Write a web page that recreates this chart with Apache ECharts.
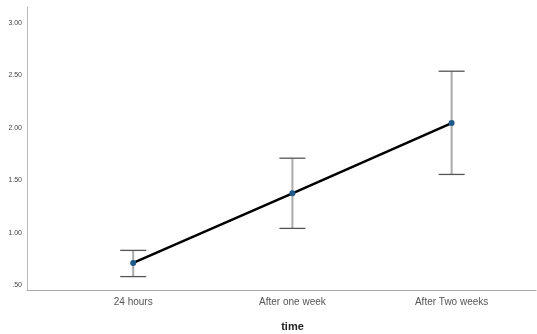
<!DOCTYPE html>
<html><head><meta charset="utf-8">
<script src="https://cdn.jsdelivr.net/npm/echarts@6/dist/echarts.min.js"></script>
<style>html,body{margin:0;padding:0;background:#fff}#c{width:537px;height:334px}</style>
</head><body><div id="c"></div>
<script>
var categories = ['24 hours', 'After one week', 'After Two weeks'];
var means = [0.71, 1.375, 2.045];
var upper = [0.83, 1.71, 2.54];
var lower = [0.58, 1.04, 1.555];
var yTicks = [0.5, 1.0, 1.5, 2.0, 2.5, 3.0];

var chart = echarts.init(document.getElementById('c'), null, {renderer: 'canvas'});
var lineData = means.map(function (v, i) { return [i, v]; });
var errData = means.map(function (v, i) { return [i, lower[i], upper[i]]; });

chart.setOption({
  animation: false,
  grid: {left: 27, top: 7, right: 1, bottom: 44, containLabel: false, outerBoundsMode: 'none'},
  xAxis: {
    type: 'value', min: -0.667, max: 2.53,
    name: 'time', nameLocation: 'middle', nameGap: 31,
    nameTextStyle: {fontFamily: 'Liberation Sans, Arial', fontSize: 11, fontWeight: 'bold', color: '#222', padding: [0, 0, 0, 22]},
    axisLine: {show: true, onZero: false, lineStyle: {color: '#aaa', width: 1}},
    axisTick: {show: false},
    splitLine: {show: false},
    axisLabel: {
      customValues: [0, 1, 2], margin: 7,
      formatter: function (v) { return categories[Math.round(v)]; },
      fontFamily: 'Liberation Sans, Arial', fontSize: 10, color: '#555'
    }
  },
  yAxis: {
    type: 'value', min: 0.452, max: 3.153,
    axisLine: {show: true, onZero: false, lineStyle: {color: '#bbb', width: 1}},
    axisTick: {show: false},
    splitLine: {show: false},
    axisLabel: {
      customValues: yTicks, margin: 5,
      formatter: function (v) { var s = v.toFixed(2); return s.charAt(0) === '0' ? s.slice(1) : s; },
      fontFamily: 'Liberation Sans, Arial', fontSize: 7, color: '#444'
    }
  },
  series: [
    {
      type: 'custom',
      data: errData,
      z: 2,
      renderItem: function (params, api) {
        var x = api.value(0);
        var lo = api.coord([x, api.value(1)]);
        var hi = api.coord([x, api.value(2)]);
        var hw = 13;
        return {
          type: 'group',
          children: [
            {type: 'line', shape: {x1: lo[0], y1: lo[1], x2: hi[0], y2: hi[1]}, style: {stroke: '#aaa', lineWidth: 2}},
            {type: 'line', shape: {x1: hi[0] - hw, y1: hi[1], x2: hi[0] + hw, y2: hi[1]}, style: {stroke: '#555', lineWidth: 1.3}},
            {type: 'line', shape: {x1: lo[0] - hw, y1: lo[1], x2: lo[0] + hw, y2: lo[1]}, style: {stroke: '#555', lineWidth: 1.3}}
          ]
        };
      }
    },
    {
      type: 'line',
      data: lineData,
      z: 3,
      symbol: 'circle', symbolSize: 6,
      lineStyle: {color: '#000', width: 2.5},
      itemStyle: {color: '#1f5a8a', borderWidth: 0}
    }
  ]
});
</script></body></html>
